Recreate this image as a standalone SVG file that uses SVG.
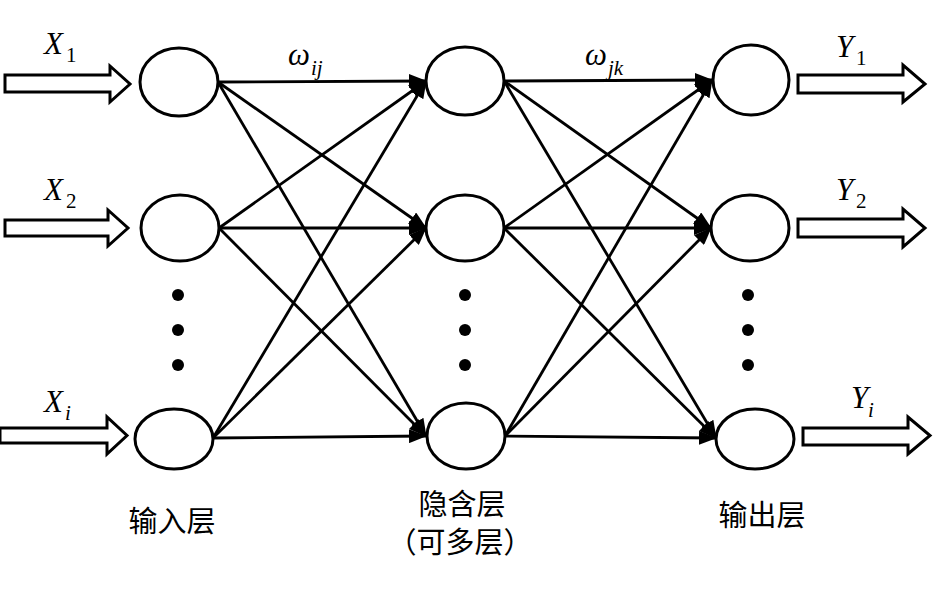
<svg xmlns="http://www.w3.org/2000/svg" width="933" height="599" viewBox="0 0 933 599">
<defs>
<style>
.node{fill:#fff;stroke:#000;stroke-width:3}
.conn line{stroke:#000;stroke-width:2.8;marker-end:url(#ah)}
.blk{fill:#fff;stroke:#000;stroke-width:3;stroke-linejoin:miter}
.dot{fill:#000}
.var{font-family:"Liberation Serif",serif;font-style:italic;font-size:31px;fill:#000}
.sub{font-family:"Liberation Serif",serif;font-size:21px;fill:#000}
.subi{font-family:"Liberation Serif",serif;font-style:italic;font-size:21px;fill:#000}
.cn{font-family:"Noto Sans CJK SC",sans-serif;font-size:29px;fill:#000;text-anchor:middle}
</style>
<marker id="ah" markerUnits="userSpaceOnUse" markerWidth="18" markerHeight="14" viewBox="0 0 18 14" refX="17" refY="7" orient="auto">
<path d="M0,0 L18,7 L0,14 Z" fill="#000"/>
</marker>
</defs>
<rect width="933" height="599" fill="#fff"/>

<g id="connectors" class="conn">
<line x1="218" y1="82" x2="426" y2="81"/>
<line x1="218" y1="82" x2="426" y2="228"/>
<line x1="218" y1="82" x2="426" y2="436"/>
<line x1="219" y1="228" x2="426" y2="81"/>
<line x1="219" y1="228" x2="426" y2="228"/>
<line x1="219" y1="228" x2="426" y2="436"/>
<line x1="213" y1="438" x2="426" y2="81"/>
<line x1="213" y1="438" x2="426" y2="228"/>
<line x1="213" y1="438" x2="426" y2="436"/>
<line x1="504" y1="81" x2="712" y2="80"/>
<line x1="504" y1="81" x2="711" y2="228"/>
<line x1="504" y1="81" x2="716" y2="438"/>
<line x1="504" y1="228" x2="712" y2="80"/>
<line x1="504" y1="228" x2="711" y2="228"/>
<line x1="504" y1="228" x2="716" y2="438"/>
<line x1="505" y1="436" x2="712" y2="80"/>
<line x1="505" y1="436" x2="711" y2="228"/>
<line x1="505" y1="436" x2="716" y2="438"/>
</g>

<g id="input-arrows">
<polygon class="blk" points="5,75 110,75 110,66 130,84 110,102 110,92 5,92"/>
<polygon class="blk" points="5,220 108,220 108,210 128,228 108,246 108,236 5,236"/>
<polygon class="blk" points="0,428 107,428 107,417 127,435.5 107,454 107,443 0,443"/>
</g>
<g id="output-arrows">
<polygon class="blk" points="798,75 903,75 903,65 925,84 903,102 903,93 798,93"/>
<polygon class="blk" points="798,219 903,219 903,209 925,228 903,247 903,237 798,237"/>
<polygon class="blk" points="803,428 908,428 908,417 930,435.5 908,454 908,445 803,445"/>
</g>

<g id="in1"><ellipse class="node" cx="179" cy="82" rx="39" ry="34"/></g>
<g id="in2"><ellipse class="node" cx="180" cy="228" rx="39" ry="33"/></g>
<g id="in3"><ellipse class="node" cx="174" cy="439" rx="39" ry="30"/></g>
<g id="hid1"><ellipse class="node" cx="465" cy="81" rx="39" ry="34"/></g>
<g id="hid2"><ellipse class="node" cx="465" cy="228" rx="39" ry="33"/></g>
<g id="hid3"><ellipse class="node" cx="466" cy="436" rx="39" ry="33"/></g>
<g id="out1"><ellipse class="node" cx="751" cy="80" rx="38" ry="35"/></g>
<g id="out2"><ellipse class="node" cx="750" cy="228" rx="39" ry="33"/></g>
<g id="out3"><ellipse class="node" cx="755" cy="439" rx="39" ry="30"/></g>

<g id="dots">
<circle class="dot" cx="178" cy="295" r="6"/>
<circle class="dot" cx="178" cy="330" r="6"/>
<circle class="dot" cx="178" cy="365" r="6"/>
<circle class="dot" cx="465" cy="295" r="6"/>
<circle class="dot" cx="465" cy="330" r="6"/>
<circle class="dot" cx="465" cy="365" r="6"/>
<circle class="dot" cx="748" cy="295" r="6"/>
<circle class="dot" cx="748" cy="330" r="6"/>
<circle class="dot" cx="748" cy="365" r="6"/>
</g>

<g id="labels">
<text class="var" x="44" y="54">X</text><text class="sub" x="66" y="62">1</text>
<text class="var" x="44" y="200">X</text><text class="sub" x="66" y="208">2</text>
<text class="var" x="44" y="412">X</text><text class="subi" x="65" y="420">i</text>
<text class="var" x="836" y="57">Y</text><text class="sub" x="856" y="65">1</text>
<text class="var" x="836" y="200">Y</text><text class="sub" x="856" y="208">2</text>
<text class="var" x="851" y="408">Y</text><text class="subi" x="868" y="417">i</text>
<text class="var" x="288" y="65">ω</text><text class="subi" x="311" y="75">ij</text>
<text class="var" x="585" y="65">ω</text><text class="subi" x="608" y="75">jk</text>
<text class="cn" x="172" y="532">输入层</text>
<text class="cn" x="462" y="515">隐含层</text>
<text class="cn" x="460" y="553">（可多层）</text>
<text class="cn" x="762" y="526">输出层</text>
</g>
</svg>
